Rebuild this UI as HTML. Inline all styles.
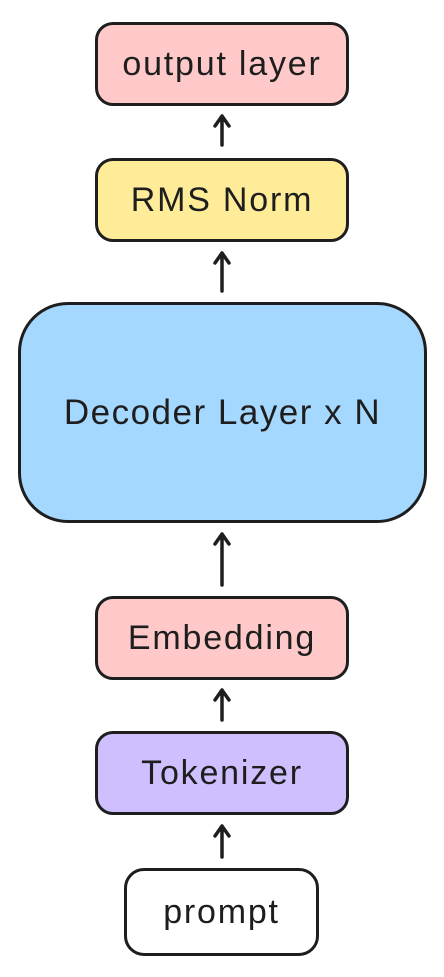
<!DOCTYPE html>
<html><head><meta charset="utf-8"><style>
html,body{margin:0;padding:0;background:#fff;}
body{width:444px;height:977px;position:relative;overflow:hidden;font-family:"Liberation Sans",sans-serif;}
.b{position:absolute;box-sizing:border-box;border:3px solid #1e1e1e;display:flex;align-items:center;justify-content:center;font-size:34px;letter-spacing:1.8px;color:#1e1e1e;}
svg{position:absolute;left:0;top:0;}
</style></head><body>
<div class="b" style="left:95px;top:22px;width:254px;height:84px;background:#ffc9c9;border-radius:18px;">output layer</div>
<div class="b" style="left:95px;top:158px;width:254px;height:84px;background:#ffec99;border-radius:18px;">RMS Norm</div>
<div class="b" style="left:18px;top:302px;width:409px;height:221px;background:#a5d8ff;border-radius:50px;font-size:35px;letter-spacing:1.5px;">Decoder Layer x N</div>
<div class="b" style="left:95px;top:596px;width:254px;height:84px;background:#ffc9c9;border-radius:18px;">Embedding</div>
<div class="b" style="left:95px;top:731px;width:254px;height:84px;background:#d0bfff;border-radius:18px;">Tokenizer</div>
<div class="b" style="left:124px;top:868px;width:195px;height:88px;background:#fff;border-radius:20px;">prompt</div>
<svg width="444" height="977" fill="none" stroke="#1e1e1e" stroke-width="3.5" stroke-linecap="round" stroke-linejoin="round">
<path d="M222 145V116M215 126L222 116L229 126"/>
<path d="M222 291V253M215 263L222 253L229 263"/>
<path d="M222 585V534M215 544L222 534L229 544"/>
<path d="M222 720V690M215 700L222 690L229 700"/>
<path d="M222 857V826M215 836L222 826L229 836"/>
</svg>
</body></html>
